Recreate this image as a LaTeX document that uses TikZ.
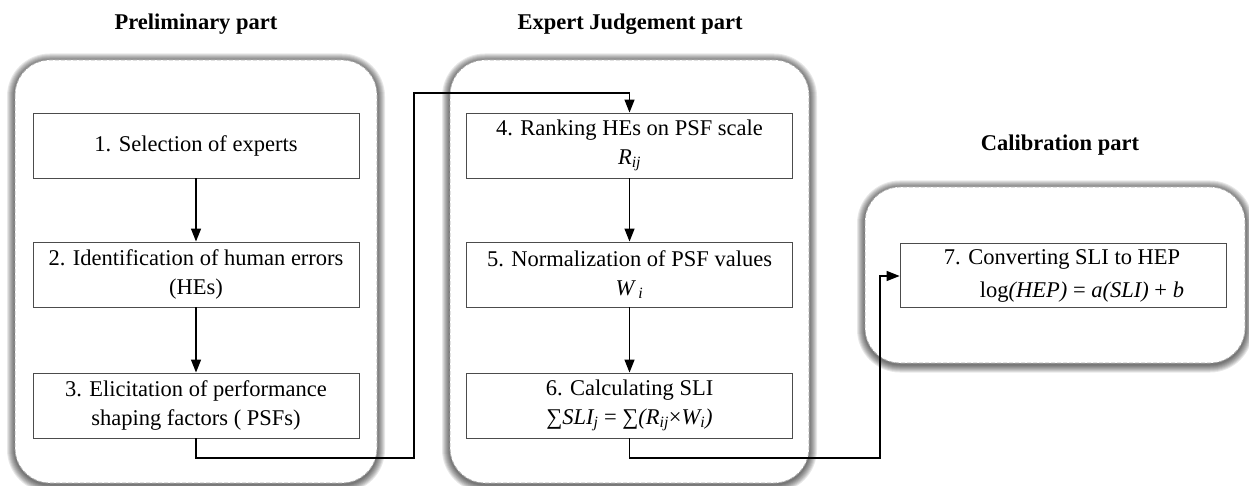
\documentclass[tikz,border=0pt]{standalone}
\usepackage{fontspec}
\setmainfont{Liberation Serif}
\usetikzlibrary{arrows.meta}
\newcommand\partbox[4]{%
  \foreach \i in {8,7,...,1}{%
    \fill[black,opacity=0.09,rounded corners=35+\i]
      (#1-\i,#2-\i+1.5) rectangle (#3+\i,#4+\i+1.5);}
  \draw[gray!65,fill=white,line width=0.8pt,dash pattern=on 4pt off 2pt,rounded corners=35]
      (#1,#2) rectangle (#3,#4);}
\tikzset{
  stepbox/.style={draw=black!70,line width=0.9pt,fill=white,minimum width=326pt,minimum height=65pt,
     align=center,inner sep=2pt,font=\fontsize{22.5}{28.5}\selectfont},
  steptext/.style={inner sep=0pt,font=\fontsize{22.5}{28.5}\selectfont},
  title/.style={font=\fontsize{22.5}{26}\selectfont\bfseries},
  conn/.style={draw=black,line width=1.3pt},
  arr/.style={conn,-{Triangle[length=13pt,width=10pt]}}
}
\begin{document}
\begin{tikzpicture}[x=1pt,y=-1pt]
\useasboundingbox (0,0) rectangle (1249,486);
% containers
\partbox{15}{60}{377}{483}
\partbox{450}{60}{809}{483}
\partbox{865}{187}{1245}{363}
% titles
\node[title] (t1) at (196,24) {Preliminary part};
\node[title] (t2) at (630,24) {Expert Judgement part};
\node[title] (t3) at (1060,145) {Calibration part};
% boxes
\node[stepbox] (b1) at (196,145.5) {1. Selection of experts};
\node[stepbox] (b2) at (196,274.5) {2. Identification of human errors\\(HEs)};
\node[stepbox] (b3) at (196,405.5) {3. Elicitation of performance\\shaping factors ( PSFs)};
\node[stepbox] (b4) at (629.5,145.5) {4. Ranking HEs on PSF scale\\\textit{R\textsubscript{ij}}};
\node[stepbox] (b5) at (629.5,274.5) {5. Normalization of PSF values\\\textit{W\textsubscript{ i}}};
\node[stepbox] (b6) at (629.5,405.5) {6. Calculating SLI\\\textit{∑SLI\textsubscript{j}} = \textit{∑(R\textsubscript{ij}}×\textit{W\textsubscript{i})}};
\node[stepbox,minimum height=64pt] (b7) at (1063,275) {};
\node[steptext] (b7a) at (1062,259) {7. Converting SLI to HEP};
\node[steptext] (b7b) at (1082,292) {log\textit{(HEP)} = \textit{a(SLI)} + \textit{b}};
% connectors
\draw[arr] (b1) -- (b2);
\draw[arr] (b2) -- (b3);
\draw[arr] (b4) -- (b5);
\draw[arr] (b5) -- (b6);
\coordinate (c1) at (196,458);
\coordinate (c2) at (414,458);
\coordinate (c3) at (414,93);
\coordinate (c4) at (629.5,93);
\draw[arr] (b3.south) -- (c1) -- (c2) -- (c3) -- (c4) -- (b4.north);
\coordinate (d1) at (629.5,458);
\coordinate (d2) at (880,458);
\coordinate (d3) at (880,276);
\draw[arr] (b6.south) -- (d1) -- (d2) -- (d3) -- (b7.west |- d3);
\end{tikzpicture}
\end{document}
